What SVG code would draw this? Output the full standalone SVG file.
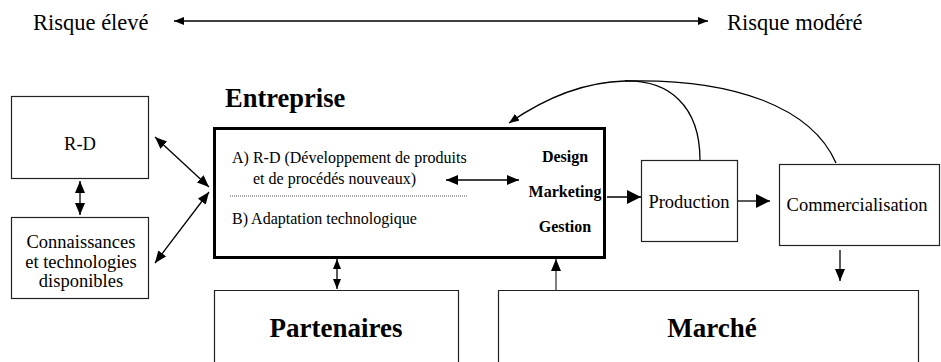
<svg xmlns="http://www.w3.org/2000/svg" width="941" height="362" viewBox="0 0 941 362">
<style>
text{font-family:"Liberation Serif","Times New Roman",serif;fill:#000}
.box{fill:#fff;stroke:#222;stroke-width:1.2}
.big{font-size:22.5px}
.mid{font-size:18.5px}
.sm{font-size:16px}
.b{font-weight:bold}
.ln{stroke:#000;stroke-width:1.3;fill:none}
</style>
<defs>
<marker id="ah" viewBox="0 0 12 10" refX="12" refY="5" markerWidth="12" markerHeight="10" markerUnits="userSpaceOnUse" orient="auto-start-reverse"><path d="M0,0L12,5L0,10z" fill="#000"/></marker>
<marker id="ahs" viewBox="0 0 10 8" refX="10" refY="4" markerWidth="10" markerHeight="8" markerUnits="userSpaceOnUse" orient="auto-start-reverse"><path d="M0,0L10,4L0,8z" fill="#000"/></marker>
<marker id="ahl" viewBox="0 0 14 14" refX="14" refY="7" markerWidth="14" markerHeight="14" markerUnits="userSpaceOnUse" orient="auto"><path d="M0,0L14,7L0,14z" fill="#000"/></marker>
</defs>

<g id="risk">
<text class="big" x="33" y="30">Risque élevé</text>
<text class="big" x="727" y="30">Risque modéré</text>
</g>

<g id="rd"><rect class="box" x="11.5" y="96.5" width="137" height="82"/><text class="mid" x="80" y="150" text-anchor="middle">R-D</text></g>
<g id="connaissances"><rect class="box" x="11.5" y="217.5" width="137" height="81"/>
<text class="mid" x="81" y="248" text-anchor="middle">Connaissances</text>
<text class="mid" x="81" y="268" text-anchor="middle">et technologies</text>
<text class="mid" x="81" y="287" text-anchor="middle">disponibles</text></g>

<g id="entreprise">
<text x="225" y="107" style="font-size:26.5px;font-weight:bold">Entreprise</text>
<rect x="214.5" y="128.5" width="390" height="129" fill="#fff" stroke="#000" stroke-width="3"/>
<text class="sm" x="232" y="163">A) R-D (Développement de produits</text>
<text class="sm" x="253" y="184">et de procédés nouveaux)</text>
<line x1="230" y1="196" x2="467" y2="196" stroke="#555" stroke-width="1" stroke-dasharray="1,1"/>
<text class="sm" x="232" y="224">B) Adaptation technologique</text>
<text class="sm b" x="565" y="162" text-anchor="middle">Design</text>
<text class="sm b" x="565" y="197" text-anchor="middle">Marketing</text>
<text class="sm b" x="565" y="232" text-anchor="middle">Gestion</text>
</g>

<g id="production"><rect class="box" x="641.5" y="160.5" width="96" height="81"/><text class="mid" x="689" y="208" text-anchor="middle">Production</text></g>
<g id="commercialisation"><rect class="box" x="779.5" y="164.5" width="160" height="81"/><text class="mid" x="857" y="211" text-anchor="middle">Commercialisation</text></g>
<g id="partenaires"><path class="box" d="M214.5,362V290.5H458.5V362"/><text x="336" y="337" text-anchor="middle" style="font-size:27px;font-weight:bold">Partenaires</text></g>
<g id="marche"><path class="box" d="M498.5,362V290.5H918.5V362"/><text x="712" y="337" text-anchor="middle" style="font-size:27px;font-weight:bold">Marché</text></g>

<g id="connectors">
<line class="ln" x1="174" y1="21" x2="708" y2="21" marker-start="url(#ahs)" marker-end="url(#ahs)"/>
<line class="ln" x1="80" y1="181" x2="80" y2="215" marker-start="url(#ah)" marker-end="url(#ah)"/>
<line class="ln" x1="155" y1="137" x2="209" y2="187" marker-start="url(#ah)" marker-end="url(#ah)"/>
<line class="ln" x1="155" y1="263" x2="209" y2="192" marker-start="url(#ah)" marker-end="url(#ah)"/>
<line class="ln" x1="446" y1="180" x2="519" y2="180" marker-start="url(#ah)" marker-end="url(#ah)"/>
<line class="ln" x1="607" y1="197" x2="641" y2="197" marker-end="url(#ahl)"/>
<line class="ln" x1="738" y1="201" x2="770" y2="201" marker-end="url(#ahl)"/>
<line class="ln" x1="337" y1="259" x2="337" y2="289" marker-start="url(#ahs)" marker-end="url(#ahs)"/>
<line x1="556" y1="290" x2="556" y2="259" stroke="#555" stroke-width="1.5" marker-end="url(#ah)"/>
<line class="ln" x1="840" y1="250" x2="840" y2="281" marker-end="url(#ah)"/>
<path class="ln" d="M700,160C700,105 668,80 625,81C585,82 545,98 509,123" stroke-width="1.1" marker-end="url(#ahs)"/>
<path class="ln" d="M836,163C812,108 735,78 625,81" stroke-width="1.1"/>
</g>
</svg>
